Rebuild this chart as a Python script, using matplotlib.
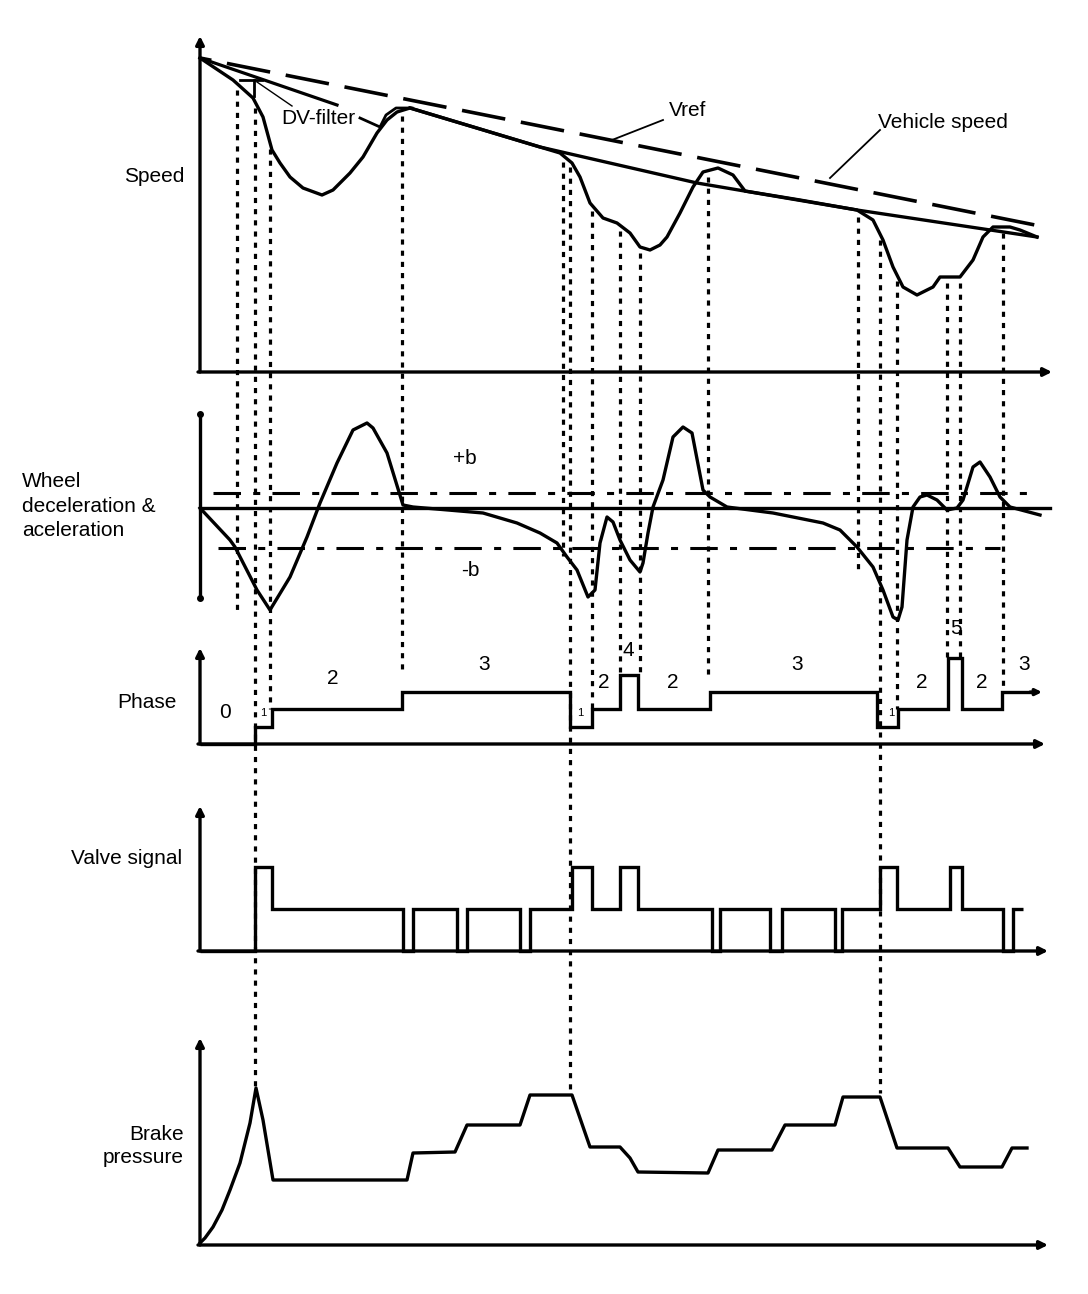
import numpy as np
import matplotlib
matplotlib.use("Agg")
import matplotlib.pyplot as plt

plt.rcParams['font.family'] = ['Liberation Sans', 'DejaVu Sans']

# ---------------- data (time axis shared, values relative to each panel's zero line) -------------
# Speed panel
vref_t = [200, 1035]
vref_v = [314, 147]
vehicle_t = [410, 540, 697, 857, 1037]
vehicle_v = [264, 225, 189, 162, 135]
wheel_t = [200, 233, 253, 263, 272, 280, 290, 303, 322, 333, 350, 363, 377, 387, 397, 410,
           450, 500, 540, 560, 572, 580, 590, 603, 617, 630, 640, 650, 660, 667, 680, 693, 703,
           718, 733, 745, 800, 857, 873, 883, 893, 903, 917, 933, 940, 960, 973, 983, 993,
           1010, 1020, 1037]
wheel_v = [314, 292, 274, 255, 222, 209, 195, 184, 177, 182, 199, 215, 239, 252, 260, 264,
           252, 237, 225, 219, 209, 195, 169, 154, 149, 139, 125, 122, 127, 135, 159, 185, 200,
           204, 197, 181, 172, 162, 152, 132, 105, 85, 77, 85, 95, 95, 112, 135, 145,
           145, 142, 135]
dvfilter_t = [200, 270, 337]
dvfilter_v = [314, 290, 267]
dvfilter2_t = [360, 380, 386, 396, 412]
dvfilter2_v = [254, 245, 257, 264, 264]

# Wheel deceleration / acceleration panel
acc_t = [200, 230, 235, 257, 270, 290, 307, 320, 337, 353, 367, 373, 387, 403, 413, 483, 517,
         540, 557, 567, 577, 588, 595, 600, 607, 613, 620, 630, 640, 643, 648, 653, 663, 673, 683,
         692, 703, 710, 727, 773, 823, 840, 857, 873, 883, 893, 898, 902, 907, 913, 920, 927,
         937, 947, 957, 963, 973, 980, 990, 1000, 1010, 1040]
acc_v = [0, -32, -39, -82, -102, -69, -29, 5, 45, 78, 85, 80, 55, 3, 1, -5, -15,
         -25, -35, -49, -62, -89, -82, -35, -9, -14, -32, -52, -64, -55, -25, 1, 28, 71, 81,
         75, 18, 11, 1, -5, -15, -22, -39, -59, -82, -109, -112, -99, -32, 1, 11, 13,
         8, -2, 0, 8, 41, 46, 31, 11, 1, -7]
plus_b = 15
minus_b = -40

# Phase panel
phase_edges = [200, 255, 272, 402, 570, 592, 620, 638, 710, 877, 898, 948, 962, 1002, 1037]
phase_vals = [0, 1, 2, 3, 1, 2, 4, 2, 3, 1, 2, 5, 2, 3]
phase_labels = ["0", "2", "3", "2", "4", "2", "3", "2", "5", "2", "3"]
phase_label_t = [225, 333, 484, 604, 628, 673, 797, 922, 956, 982, 1024]
phase_label_v = [31, 66, 80, 61, 94, 61, 80, 61, 116, 61, 80]

# Valve signal panel
valve_edges = [200, 255, 272, 403, 413, 457, 467, 520, 530, 572, 592, 620, 638, 712, 720, 770,
               782, 835, 842, 880, 897, 950, 962, 1003, 1013, 1023]
valve_vals = [0, 2, 1, 0, 1, 0, 1, 0, 1, 2, 1, 2, 1, 0, 1, 0, 1, 0, 1, 2, 1, 2, 1, 0, 1]

# Brake pressure panel
brake_t = [200, 205, 213, 222, 230, 240, 250, 256, 263, 273, 407, 413, 455, 467, 520, 530, 572,
           590, 620, 630, 638, 708, 718, 772, 785, 835, 843, 880, 897, 948, 960, 1002, 1012, 1027]
brake_v = [2, 7, 18, 35, 55, 82, 122, 157, 125, 65, 65, 92, 93, 120, 120, 150, 150,
           98, 98, 87, 73, 72, 95, 95, 120, 120, 148, 148, 97, 97, 78, 78, 97, 97]

# event markers: time and the panel level where each dotted line ends
events_t = [237, 255, 270, 402, 563, 570, 592, 620, 640, 708, 858, 880, 897, 947, 960, 1003]
events_end = ["acc_low", "brake", "phase2", "phase_top", "minus_b", "brake", "phase2",
              "phase4", "phase4", "phase_top", "acc_mid", "brake", "phase2", "phase5",
              "phase5", "phase3"]

# ---------------- layout -------------
base = dict(speed=372, acc=508, phase=744, valve=951, brake=1245)
phase_unit = 17.3
valve_unit = 42.0

fig = plt.figure(figsize=(10.88, 12.94), dpi=100)
ax = fig.add_axes([0, 0, 1, 1])
ax.set_xlim(0, 1088)
ax.set_ylim(1294, 0)
ax.axis('off')

K = 'black'
LW = 2.4
FS = 15


def Y(panel, v):
    return base[panel] - np.asarray(v, dtype=float)


def arrow(x0, y0, x1, y1, lw=2.4, ms=12):
    ax.annotate('', xy=(x1, y1), xytext=(x0, y0),
                arrowprops=dict(arrowstyle='-|>', lw=lw, color=K, mutation_scale=ms,
                                shrinkA=0, shrinkB=0))

# ---- axes
arrow(200, base['speed'], 200, 36)
arrow(198, base['speed'], 1052, base['speed'])
ax.plot([200, 200], [414, 598], color=K, lw=LW)
ax.plot([200, 200], [414, 598], 'o', color=K, ms=4)
ax.plot([200, 1050], [base['acc'], base['acc']], color=K, lw=LW)
arrow(200, base['phase'], 200, 648)
arrow(198, base['phase'], 1045, base['phase'])
arrow(200, base['valve'], 200, 806)
arrow(198, base['valve'], 1048, base['valve'])
arrow(200, base['brake'], 200, 1038)
arrow(198, base['brake'], 1048, base['brake'])

# ---- speed panel
ax.plot(vref_t, Y('speed', vref_v), color=K, lw=2.6, linestyle=(9, (12.2, 4.4)))
ax.plot(vehicle_t, Y('speed', vehicle_v), color=K, lw=LW)
ax.plot(wheel_t, Y('speed', wheel_v), color=K, lw=LW)
ax.plot(dvfilter_t, Y('speed', dvfilter_v), color=K, lw=2.3)
ax.plot(dvfilter2_t, Y('speed', dvfilter2_v), color=K, lw=2.0)
ax.plot([254, 254], Y('speed', [292, 276]), color=K, lw=2.0)
ax.plot([240, 262], Y('speed', [292, 292]), color=K, lw=2.0)
ax.plot([257, 292], [82, 106], color=K, lw=1.0)
ax.text(318, 119, "DV-filter", fontsize=FS, ha='center', va='center')
ax.text(688, 110, "Vref", fontsize=FS, ha='center', va='center')
ax.plot([663, 612], [120, 140], color=K, lw=1.3)
ax.text(878, 122, "Vehicle speed", fontsize=FS, ha='left', va='center')
ax.plot([880, 830], [130, 178], color=K, lw=1.3)
ax.text(184, 177, "Speed", fontsize=FS, ha='right', va='center')

# ---- acceleration panel
dashdot = (0, (9, 4, 2.3, 4))
ax.plot([213, 1030], [base['acc'] - plus_b] * 2, color=K, lw=2.2, linestyle=dashdot)
ax.plot([218, 1000], [base['acc'] - minus_b] * 2, color=K, lw=2.2, linestyle=dashdot)
ax.plot(acc_t, Y('acc', acc_v), color=K, lw=LW)
ax.text(465, 458, "+b", fontsize=FS, ha='center', va='center')
ax.text(470, 570, "-b", fontsize=FS, ha='center', va='center')
ax.text(22, 506, "Wheel\ndeceleration &\naceleration", fontsize=FS, ha='left', va='center',
        linespacing=1.35)

# ---- phase panel
pv = np.array(phase_vals) * phase_unit
ax.stairs(base['phase'] - pv, phase_edges, baseline=None, color=K, lw=LW)
arrow(1030, base['phase'] - 3 * phase_unit, 1042, base['phase'] - 3 * phase_unit, ms=9)
for s, t, v in zip(phase_labels, phase_label_t, phase_label_v):
    ax.text(t, base['phase'] - v, s, fontsize=FS, ha='center', va='center')
for t in [263, 580, 891]:
    ax.text(t, base['phase'] - 1.8 * phase_unit, "1", fontsize=8, ha='center', va='center')
ax.text(177, 703, "Phase", fontsize=FS, ha='right', va='center')

# ---- valve panel
vv = np.array(valve_vals) * valve_unit
ax.stairs(base['valve'] - vv, valve_edges, baseline=None, color=K, lw=LW)
ax.text(182, 858, "Valve signal", fontsize=FS, ha='right', va='center')

# ---- brake panel
ax.plot(brake_t, Y('brake', brake_v), color=K, lw=LW)
ax.text(184, 1146, "Brake\npressure", fontsize=FS, ha='right', va='center', linespacing=1.3)

# ---- event (dotted) lines
wheel_at = np.interp(events_t, wheel_t, wheel_v)
ends = dict(acc_low=610, brake=None, phase2=base['phase'] - 2 * phase_unit,
            phase_top=675, minus_b=556, phase4=672, acc_mid=570, phase5=657, phase3=690)
for t, wv, e in zip(events_t, wheel_at, events_end):
    y0 = base['speed'] - wv + 6
    if e == 'brake':
        y1 = base['brake'] - np.interp(t, brake_t, brake_v) - 4
    else:
        y1 = ends[e]
    ax.plot([t, t], [y0, y1], color=K, lw=2.3, linestyle=(0, (1.6, 1.9)))

fig.savefig("out.png", dpi=100)
